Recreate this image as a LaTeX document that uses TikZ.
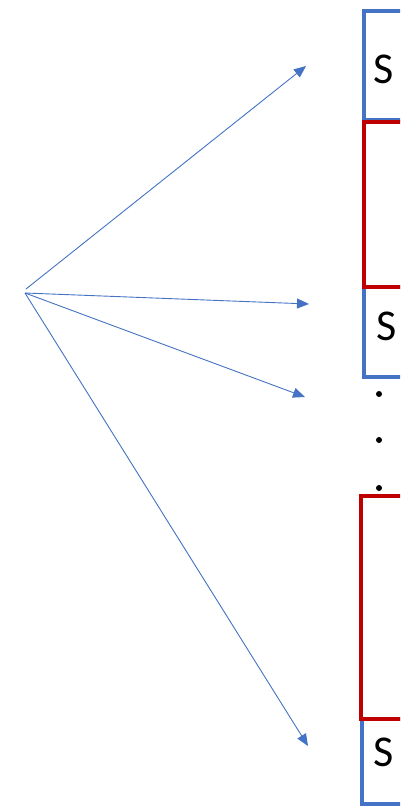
\documentclass[tikz,border=0pt]{standalone}
\usepackage{fontspec}
\setmainfont{Carlito}
\usetikzlibrary{arrows.meta}
\definecolor{boxblue}{HTML}{4472C4}
\definecolor{boxred}{HTML}{C00000}
\tikzset{
  fan/.style={draw=boxblue, line width=0.9pt, -{Triangle[length=12pt,width=10pt]}},
  bluebox/.style={draw=boxblue, line width=3.8pt, anchor=north west, inner sep=0pt},
  redbox/.style={draw=boxred, line width=4.2pt, anchor=north west, inner sep=0pt},
  label/.style={font=\fontsize{44}{46}\selectfont, inner sep=0pt},
  dot/.style={circle, fill=black, inner sep=0pt, minimum size=6pt}
}
\begin{document}
\begin{tikzpicture}[x=1pt, y=-1pt]
  \useasboundingbox (0,0) rectangle (400,806);
  \clip (0,0) rectangle (400,806);

  % stacked blocks on the right edge
  \node[bluebox, minimum width=60pt, minimum height=109pt] (b1) at (362,9) {};
  \node[bluebox, minimum width=60pt, minimum height=90pt] (b2) at (362,285) {};
  \node[redbox, minimum width=60pt, minimum height=165pt] (r1) at (362,120) {};
  \node[bluebox, minimum width=60pt, minimum height=85pt] (b3) at (360,717) {};
  \node[redbox, minimum width=60pt, minimum height=223pt] (r2) at (359,494) {};

  \node[label] (s1) at (384,69) {S};
  \node[label] (s2) at (387,326) {S};
  \node[label] (s3) at (384,752) {S};

  % vertical ellipsis
  \node[dot] (d1) at (379,394) {};
  \node[dot] (d2) at (379,440) {};
  \node[dot] (d3) at (379,488) {};

  % fan of arrows
  \coordinate (o1) at (26,289);
  \coordinate (o) at (25,293);
  \coordinate (t1) at (306,66);
  \coordinate (t2) at (309,304);
  \coordinate (t3) at (305,397);
  \coordinate (t4) at (308,746);
  \draw[fan] (o1) -- (t1);
  \draw[fan] (o) -- (t2);
  \draw[fan] (o) -- (t3);
  \draw[fan] (o) -- (t4);
\end{tikzpicture}
\end{document}
